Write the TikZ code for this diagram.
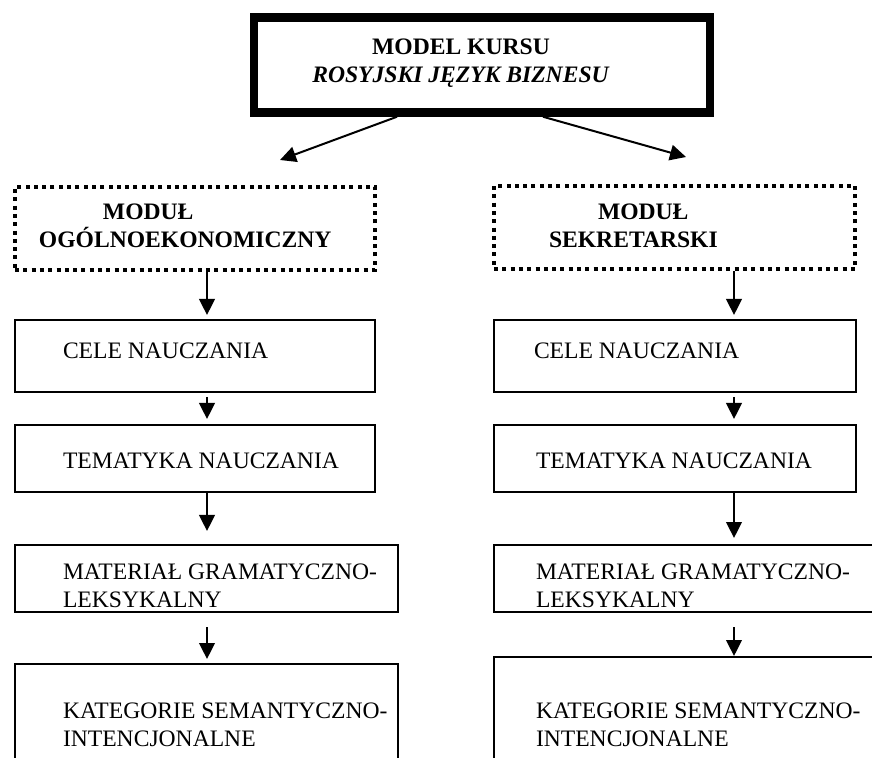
\documentclass[tikz,border=0pt]{standalone}
\usepackage{fontspec}
\setmainfont{Liberation Serif}
\usetikzlibrary{arrows.meta,positioning}

\begin{document}
\begin{tikzpicture}
[x=0.5pt, y=-0.5pt, font=\fontsize{11.8}{14}\selectfont, line width=1pt,
mainbox/.style={rectangle, draw, line width=4.25pt, inner sep=0pt, minimum width=228pt, minimum height=47.5pt},
modbox/.style={rectangle, draw, line width=2pt, dash pattern=on 2pt off 2.15pt, inner sep=0pt, minimum width=180pt, minimum height=41.5pt},
box/.style={rectangle, draw, line width=1pt, inner sep=0pt},
txt/.style={anchor=base west, inner sep=0pt, align=left},
arr/.style={-{Triangle[length=8pt, width=7.8pt]}, line width=1pt}
]
\useasboundingbox (0,0) rectangle (872,758);
\clip (0,0) rectangle (872,758);

% course model
\node[mainbox] (top) at (482,65) {};
\node[anchor=base, inner sep=0pt, align=center] (toptxt) at (461,83)
  {\textbf{MODEL KURSU}\\\textbf{\textit{ROSYJSKI JĘZYK BIZNESU}}};

\coordinate (tipA) at (280,160);
\coordinate (tipB) at (686,157);
\draw[arr] ([xshift=-42.5pt]top.south) -- (tipA);
\draw[arr] ([xshift=30.5pt]top.south) -- (tipB);

% modules
\node[modbox] (modA) at (195,228.5) {};
\node[modbox, minimum width=180.5pt] (modB) at (674.5,227.5) {};
\node[txt, font=\fontsize{11.8}{14}\selectfont\bfseries] (modAtxt) at (38,248)
  {\hspace*{32pt}MODUŁ\\OGÓLNOEKONOMICZNY};
\node[txt, font=\fontsize{11.8}{14}\selectfont\bfseries] (modBtxt) at (548,248)
  {\hspace*{24.5pt}MODUŁ\\SEKRETARSKI};

% left column
\node[box, minimum width=180pt, minimum height=35.75pt] (celeA) at (194.5,356.25) {};
\node[box, minimum width=180pt, minimum height=33.5pt] (temA) at (194.5,458.5) {};
\node[box, minimum width=191.75pt, minimum height=33.5pt] (matA) at (206.25,578.5) {};
\node[box, minimum width=191.75pt, minimum height=68pt] (katA) at (206.25,732) {};

\node[txt] (celeAtxt) at (62,359) {CELE NAUCZANIA};
\node[txt] (temAtxt) at (62,469) {TEMATYKA NAUCZANIA};
\node[txt] (matAtxt) at (62,607) {MATERIAŁ GRAMATYCZNO-\\LEKSYKALNY};
\node[txt] (katAtxt) at (62,746) {KATEGORIE SEMANTYCZNO-\\INTENCJONALNE};

% right column
\node[box, minimum width=180.75pt, minimum height=35.75pt] (celeB) at (674.75,356.25) {};
\node[box, minimum width=180.75pt, minimum height=33.5pt] (temB) at (674.75,458.5) {};
\node[box, minimum width=203pt, minimum height=33.5pt] (matB) at (697,578.5) {};
\node[box, minimum width=203pt, minimum height=71.5pt] (katB) at (697,728.5) {};

\node[txt] (celeBtxt) at (533,359) {CELE NAUCZANIA};
\node[txt] (temBtxt) at (535,469) {TEMATYKA NAUCZANIA};
\node[txt] (matBtxt) at (535,607) {MATERIAŁ GRAMATYCZNO-\\LEKSYKALNY};
\node[txt] (katBtxt) at (535,746) {KATEGORIE SEMANTYCZNO-\\INTENCJONALNE};

% arrows
\coordinate (colA) at (207,0);
\coordinate (colB) at (734,0);
\draw[arr, shorten >=2.25pt] (modA.south -| colA) -- (celeA.north -| colA);
\draw[arr, shorten <=2pt, shorten >=2.5pt] (celeA.south -| colA) -- (temA.north -| colA);
\draw[arr, shorten >=6.5pt] (temA.south -| colA) -- (matA.north -| colA);
\draw[arr, shorten <=7pt, shorten >=2pt] (matA.south -| colA) -- (katA.north -| colA);

\draw[arr, shorten >=2.25pt] (modB.south -| colB) -- (celeB.north -| colB);
\draw[arr, shorten <=2pt, shorten >=2.5pt] (celeB.south -| colB) -- (temB.north -| colB);
\draw[arr, shorten >=3pt] (temB.south -| colB) -- (matB.north -| colB);
\draw[arr, shorten <=7pt] (matB.south -| colB) -- (katB.north -| colB);
\end{tikzpicture}
\end{document}
